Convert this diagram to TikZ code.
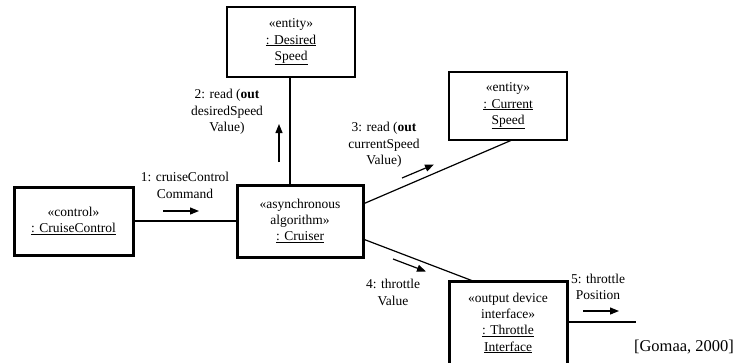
\documentclass[tikz,border=0pt]{standalone}
\usepackage{fontspec}
\setmainfont{Liberation Serif}
\usetikzlibrary{arrows.meta}
\begin{document}
\begin{tikzpicture}[x=1pt,y=-1pt,
  obj/.style={draw,line width=1.2pt,rectangle,align=center,inner sep=0pt,font=\fontsize{13.5}{16.3}\selectfont},
  thickobj/.style={obj,line width=3pt},
  conn/.style={line width=1.2pt},
  lbl/.style={align=center,inner sep=0pt,font=\fontsize{13.5}{16.3}\selectfont},
  msg/.style={line width=1.2pt,-{Triangle[length=9pt,width=7pt]}}]
\useasboundingbox (0,0) rectangle (735,362);
% objects
\node[obj,minimum width=128pt,minimum height=70pt] (desired) at (291,42) {«entity»\\\underline{: Desired}\\\underline{Speed}};
\node[obj,minimum width=118pt,minimum height=68pt] (current) at (508,106) {«entity»\\\underline{: Current}\\\underline{Speed}};
\node[thickobj,minimum width=119pt,minimum height=68pt] (cc) at (73.5,221) {«control»\\\underline{: CruiseControl}};
\node[thickobj,minimum width=126pt,minimum height=72pt] (cruiser) at (300,221) {«asynchronous\\algorithm»\\\underline{: Cruiser}};
\node[thickobj,minimum width=118pt,minimum height=84pt] (throttle) at (508,323) {«output device\\interface»\\\underline{: Throttle}\\\underline{Interface}};
% connector end points
\coordinate (dsx) at (290,77);
\coordinate (ccr) at (363,204);
\coordinate (cce) at (512,140);
\coordinate (ctr) at (363,239);
\coordinate (cte) at (473,281);
\coordinate (tout) at (636,322);
% connectors
\draw[conn] (cc.east) -- (cruiser.west);
\draw[conn] (dsx) -- (dsx |- cruiser.north);
\draw[conn] (ccr) -- (cce);
\draw[conn] (ctr) -- (cte);
\draw[conn] (throttle.east |- tout) -- (tout);
% message labels
\node[lbl] (l1) at (185,185.5) {1: cruiseControl\\Command};
\node[lbl] (l2) at (227,112) {2: read (\textbf{out}\\desiredSpeed\\Value)};
\node[lbl] (l3) at (384,145) {3: read (\textbf{out}\\currentSpeed\\Value)};
\node[lbl] (l4) at (393,292.5) {4: throttle\\Value};
\node[lbl] (l5) at (598,287) {5: throttle\\Position};
\node[lbl,font=\fontsize{16.5}{19}\selectfont] (ref) at (684,347) {[Gomaa, 2000]};
% message arrows
\coordinate (a1s) at (163,211); \coordinate (a1e) at (199,211);
\coordinate (a2s) at (279,162); \coordinate (a2e) at (279,124);
\coordinate (a3s) at (402,178); \coordinate (a3e) at (434,164.5);
\coordinate (a4s) at (393,259); \coordinate (a4e) at (426,271.5);
\coordinate (a5s) at (583,311); \coordinate (a5e) at (619,311);
\draw[msg] (a1s) -- (a1e);
\draw[msg] (a2s) -- (a2e);
\draw[msg] (a3s) -- (a3e);
\draw[msg] (a4s) -- (a4e);
\draw[msg] (a5s) -- (a5e);
\end{tikzpicture}
\end{document}
